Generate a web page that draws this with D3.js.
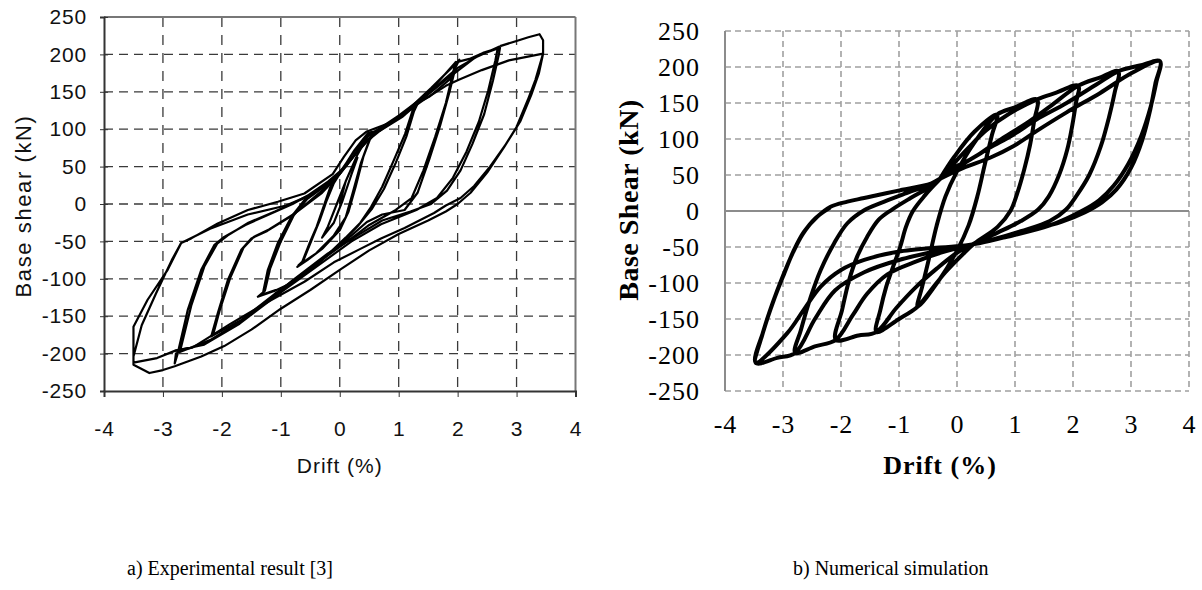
<!DOCTYPE html>
<html>
<head>
<meta charset="utf-8">
<script src="https://cdn.jsdelivr.net/npm/d3@7"></script>
<style>
body { margin: 0; background: #fff; }
</style>
</head>
<body>
<script>
const width  = 1202;
const height = 590;

// axis ticks (both panels)
const driftTicks = [-4, -3, -2, -1, 0, 1, 2, 3, 4];
const shearTicks = [250, 200, 150, 100, 50, 0, -50, -100, -150, -200, -250];

// ---------------- a) experimental loops, [drift %, shear kN] ----------------
const exp1 = [[0,0],[0.1,30],[0.2,48],[0.3,62],[0.2,40],[0.05,5],[-0.1,-25],[-0.3,-45],
  [-0.2,-30],[-0.05,0],[0.1,30],[0.3,66],[0.5,94],[0.65,98],
  [0.53,90],[0.4,63],[0.27,23],[0.15,-10],[0,-35],[-0.3,-60],[-0.55,-75],[-0.72,-84],
  [-0.65,-80],[-0.5,-50],[-0.39,-30],[-0.26,0],[-0.15,25],[0,42],[0.2,65],[0.45,90],[0.62,97],
  [0.5,85],[0.36,55],[0.22,15],[0.1,-18],[-0.1,-42],[-0.4,-66],[-0.7,-82],
  [-0.62,-76],[-0.46,-45],[-0.34,-22],[-0.22,5],[-0.1,28],[0.05,47],[0.25,72],[0.48,95],[0.62,97]];

const exp2 = [[0.62,97],[0.8,104],[1.07,118],[1.3,133],
  [1.24,126],[1.11,94],[0.92,59],[0.72,23],[0.53,-4],[0.35,-25],[0.1,-45],[-0.3,-75],[-0.8,-105],[-1.1,-116],[-1.39,-124],
  [-1.3,-118],[-1.22,-88],[-1.05,-52],[-0.82,-17],[-0.6,5],[-0.3,22],[-0.06,37],[0.2,60],[0.5,95],[0.68,98],[1.07,117],[1.32,134],
  [1.26,124],[1.13,90],[0.95,55],[0.75,20],[0.55,-6],[0.3,-30],[0.05,-50],[-0.4,-82],[-0.9,-110],[-1.35,-122],
  [-1.27,-116],[-1.18,-86],[-1.0,-50],[-0.78,-15],[-0.55,7],[-0.25,24],[0,40],[0.22,63],[0.5,93],[0.7,99],[1.1,119],[1.33,136]];

const exp3 = [[1.33,136],[1.53,144],[1.87,167],[2.03,193],
  [1.98,188],[1.86,149],[1.7,104],[1.52,60],[1.32,15],[1.1,-8],[0.72,-14],[0.46,-24],[0.2,-42],[-0.3,-74],[-1.0,-115],[-1.6,-152],[-2.18,-177],
  [-2.07,-146],[-1.9,-102],[-1.67,-61],[-1.5,-46],[-1.23,-36],[-0.8,-15],[-0.3,15],[0,40],[0.3,70],[0.6,96],[1.0,116],[1.5,148],[1.97,190],
  [1.93,178],[1.8,135],[1.62,90],[1.42,45],[1.22,8],[0.95,-8],[0.5,-28],[0.2,-46],[-0.4,-80],[-1.1,-120],[-1.7,-157],[-2.15,-175],
  [-2.04,-143],[-1.86,-99],[-1.63,-58],[-1.46,-44],[-1.2,-34],[-0.75,-12],[-0.3,18],[0.02,44],[0.35,74],[0.62,97],[1.05,118],[1.55,155],[2.0,190]];

const exp4 = [[2.0,190],[2.2,194],[2.43,202],[2.72,209],
  [2.7,200],[2.6,165],[2.45,120],[2.25,80],[2.05,45],[1.82,18],[1.55,0],[1.2,-10],[0.72,-22],[0.3,-42],[-0.2,-66],[-0.8,-102],[-1.5,-148],[-2.2,-182],[-2.78,-200],[-2.8,-213],
  [-2.75,-200],[-2.58,-142],[-2.35,-88],[-2.13,-55],[-1.96,-44],[-1.6,-28],[-1.23,-15],[-0.8,0],[-0.3,22],[0,42],[0.3,70],[0.6,97],[1.0,118],[1.5,148],[2.0,182],[2.4,200],[2.68,208],
  [2.64,192],[2.52,152],[2.36,110],[2.15,70],[1.92,35],[1.65,8],[1.3,-8],[0.7,-27],[0.2,-50],[-0.4,-84],[-1.0,-118],[-1.7,-160],[-2.3,-188],[-2.78,-196],
  [-2.7,-194],[-2.52,-136],[-2.3,-84],[-2.08,-53],[-1.9,-42],[-1.55,-25],[-1.1,-10],[-0.6,8],[-0.2,30],[0.1,50],[0.4,80],[0.7,99],[1.2,127],[1.8,166],[2.3,196],[2.72,211]];

const exp5 = [[2.72,211],[3.0,218],[3.2,223],[3.39,227],[3.45,219],[3.45,201],
  [3.32,166],[3.19,139],[3.0,103],[2.78,75],[2.5,42],[2.22,15],[2.0,0],[1.8,-10],[1.5,-22],[1.0,-40],[0.5,-62],[0,-88],
  [-0.5,-115],[-1.0,-140],[-1.5,-168],[-1.96,-190],[-2.35,-204],[-2.8,-217],[-3.0,-222],[-3.23,-226],[-3.5,-215],[-3.5,-204],
  [-3.5,-164],[-3.26,-128],[-2.92,-88],[-2.69,-52],[-2.52,-46],[-2.07,-26],[-1.56,-8],[-1.05,3],[-0.6,14],[-0.12,40],[0.07,63],[0.27,85],[0.46,97],
  [0.9,110],[1.4,138],[1.8,158],[2.02,166],[2.41,179],[2.87,192],[3.45,201],
  [3.38,175],[3.25,146],[3.06,110],[2.82,80],[2.55,50],[2.28,24],[2.05,8],[1.8,-2],[1.6,-12],[1.1,-32],[0.7,-46],[0.35,-60],[-0.1,-78],[-0.6,-104],
  [-1.2,-130],[-1.85,-160],[-2.5,-192],[-2.79,-196],[-3.1,-206],[-3.5,-212],
  [-3.5,-204],[-3.36,-162],[-3.12,-120],[-2.85,-75],[-2.69,-52],[-2.2,-33],[-1.56,-14],[-0.91,-2],[-0.5,12]];

// ---------------- b) numerical simulation, [drift %, shear kN] ----------------
const sim1 = [[-0.3,44],[-0.05,75],[0.3,110],[0.69,134],
  [0.6,105],[0.48,65],[0.35,20],[0.2,-20],[0,-55],[-0.3,-95],[-0.68,-133],
  [-0.6,-105],[-0.48,-65],[-0.35,-20],[-0.2,20],[0,55],[0.3,95],[0.69,134]];

const sim2 = [[1.0,144],[1.38,155],
  [1.33,125],[1.26,92],[1.16,58],[1.04,25],[0.92,0],[0.7,-22],[0.3,-45],
  [0.1,-60],[-0.2,-85],[-0.45,-110],[-0.68,-133],[-1.0,-150],[-1.39,-168],
  [-1.32,-137],[-1.22,-105],[-1.1,-77],[-0.98,-50],[-0.88,-22],[-0.76,0],[-0.55,22],[-0.3,44],
  [-0.1,62],[0.2,88],[0.5,112],[0.9,135],[1.38,155]];

const sim3 = [[1.7,164],[2.09,174],
  [2.05,150],[1.99,120],[1.9,85],[1.76,50],[1.58,20],[1.4,2],[1.1,-14],[0.7,-30],[0.3,-45],
  [0.0,-58],[-0.35,-80],[-0.7,-105],[-1.05,-135],[-1.39,-168],[-1.7,-173],[-2.09,-179],
  [-1.98,-137],[-1.86,-96],[-1.72,-63],[-1.55,-36],[-1.35,-12],[-1.12,2],[-0.8,18],[-0.5,32],[-0.3,44],
  [0.0,60],[0.4,80],[0.8,102],[1.2,122],[1.6,145],[2.09,174]];

const sim4 = [[2.45,185],[2.78,194],
  [2.72,165],[2.62,130],[2.48,90],[2.28,50],[2.05,20],[1.88,2],[1.6,-14],[1.1,-28],[0.6,-40],[0.3,-46],
  [-0.2,-56],[-0.7,-70],[-1.2,-88],[-1.55,-115],[-1.8,-145],[-2.09,-179],[-2.45,-188],[-2.79,-197],
  [-2.69,-165],[-2.52,-119],[-2.35,-82],[-2.12,-45],[-1.89,-17],[-1.6,1],[-1.32,11],[-0.9,24],[-0.5,36],[-0.3,44],
  [-0.18,55],[0.17,69],[0.57,88],[0.97,106],[1.37,127],[1.89,150],[2.41,176],[2.78,194]];

const sim5 = [[3.15,202],[3.5,208],
  [3.42,177],[3.33,140],[3.2,100],[3.0,60],[2.75,30],[2.5,12],[2.2,-2],[1.8,-15],[1.2,-28],[0.6,-40],[0.3,-46],
  [-0.3,-55],[-1.0,-68],[-1.6,-85],[-2.1,-110],[-2.45,-150],[-2.79,-197],[-3.1,-204],[-3.47,-211],
  [-3.33,-165],[-3.16,-124],[-2.98,-87],[-2.81,-54],[-2.64,-29],[-2.41,-8],[-2.18,6],[-1.89,13],[-1.6,18],[-1.03,28],[-0.45,38],[-0.29,45],
  [0.11,60],[0.57,74],[0.97,90],[1.37,111],[1.89,137],[2.47,164],[3.02,192],[3.5,208],
  [3.44,180],[3.34,145],[3.18,105],[2.95,65],[2.7,35],[2.45,15],[2.15,0],[1.6,-20],[0.8,-37],[0.3,-46],
  [-0.97,-56],[-1.6,-68],[-2.0,-82],[-2.35,-105],[-2.64,-137],[-2.93,-170],[-3.47,-211],
  [-3.35,-170],[-3.18,-128],[-3.0,-90],[-2.83,-58],[-2.66,-32],[-2.44,-10],[-2.2,4]];

const captions = ["a) Experimental result [3]", "b) Numerical simulation"];

// plain hyphen minus, as in the original figure
const fmt = d => String(d);

// Create the SVG container.
const svg = d3.select("body").append("svg")
    .attr("width", width)
    .attr("height", height)
    .attr("viewBox", [0, 0, width, height]);

// =========================== panel a ===========================
const xL = d3.scaleLinear().domain([-4, 4]).range([104, 575.5]);
const yL = d3.scaleLinear().domain([-250, 250]).range([391, 17]);
const sansFont = "'Liberation Sans', Arial, sans-serif";

// dashed grid
svg.append("g").selectAll("line")
    .data(shearTicks.filter(d => d > -250 && d < 250))
    .join("line")
    .attr("x1", xL(-4)).attr("x2", xL(4))
    .attr("y1", d => yL(d)).attr("y2", d => yL(d))
    .attr("stroke", "#3a3a3a").attr("stroke-width", 1.3)
    .attr("stroke-dasharray", "9,6");

svg.append("g").selectAll("line")
    .data(driftTicks.filter(d => d > -4 && d < 4))
    .join("line")
    .attr("x1", d => xL(d)).attr("x2", d => xL(d))
    .attr("y1", yL(250)).attr("y2", yL(-250))
    .attr("stroke", "#3a3a3a").attr("stroke-width", 1.3)
    .attr("stroke-dasharray", "10,8");

// frame: top/right greyish, left/bottom dark
svg.append("line").attr("x1", xL(-4)).attr("x2", xL(4)).attr("y1", yL(250)).attr("y2", yL(250))
    .attr("stroke", "#777").attr("stroke-width", 2);
svg.append("line").attr("x1", xL(4)).attr("x2", xL(4)).attr("y1", yL(250)).attr("y2", yL(-250))
    .attr("stroke", "#777").attr("stroke-width", 2);

const axLeftA = svg.append("g")
    .attr("transform", `translate(${xL(-4)},0)`)
    .call(d3.axisLeft(yL).tickValues(shearTicks).tickFormat(fmt).tickSize(4).tickPadding(13));
axLeftA.select(".domain").attr("stroke", "#333").attr("stroke-width", 2);
axLeftA.selectAll(".tick line").attr("stroke", "#333").attr("x2", 4).attr("x1", -4);
axLeftA.selectAll("text")
    .attr("font-family", sansFont).attr("font-size", 21)
    .attr("letter-spacing", 0.8).attr("fill", "#111");

const axBottomA = svg.append("g")
    .attr("transform", `translate(0,${yL(-250)})`)
    .call(d3.axisBottom(xL).tickValues(driftTicks).tickFormat(fmt).tickSize(6).tickPadding(24));
axBottomA.select(".domain").attr("stroke", "#333").attr("stroke-width", 2);
axBottomA.selectAll(".tick line").attr("stroke", "#333");
axBottomA.selectAll("text")
    .attr("font-family", sansFont).attr("font-size", 21)
    .attr("letter-spacing", 0.8).attr("fill", "#111");

svg.append("text")
    .attr("x", xL(0)).attr("y", 473)
    .attr("text-anchor", "middle")
    .attr("font-family", sansFont).attr("font-size", 21).attr("letter-spacing", 1)
    .attr("fill", "#111")
    .text("Drift (%)");

svg.append("text")
    .attr("transform", `translate(31,206) rotate(-90)`)
    .attr("text-anchor", "middle")
    .attr("font-family", sansFont).attr("font-size", 22).attr("letter-spacing", 1.6)
    .attr("fill", "#111")
    .text("Base shear (kN)");

const lineA = d3.line().x(d => xL(d[0])).y(d => yL(d[1]));
svg.append("g").selectAll("path")
    .data([exp1, exp2, exp3, exp4, exp5])
    .join("path")
    .attr("d", lineA)
    .attr("fill", "none").attr("stroke", "#000")
    .attr("stroke-width", 2.2).attr("stroke-linejoin", "round");

// =========================== panel b ===========================
const xR = d3.scaleLinear().domain([-4, 4]).range([725, 1189]);
const yR = d3.scaleLinear().domain([-250, 250]).range([391, 31]);
const serifFont = "'Liberation Serif', 'Times New Roman', serif";

svg.append("g").selectAll("line")
    .data(shearTicks.filter(d => d !== 0))
    .join("line")
    .attr("x1", xR(-4)).attr("x2", xR(4))
    .attr("y1", d => yR(d)).attr("y2", d => yR(d))
    .attr("stroke", "#a0a0a0").attr("stroke-width", 1.6)
    .attr("stroke-dasharray", "6,4");

svg.append("g").selectAll("line")
    .data(driftTicks.filter(d => d > -4))
    .join("line")
    .attr("x1", d => xR(d)).attr("x2", d => xR(d))
    .attr("y1", yR(250)).attr("y2", yR(-250))
    .attr("stroke", "#a0a0a0").attr("stroke-width", 1.6)
    .attr("stroke-dasharray", "6,4");

// solid value axis and zero line
svg.append("line").attr("x1", xR(-4)).attr("x2", xR(-4)).attr("y1", yR(250)).attr("y2", yR(-250))
    .attr("stroke", "#8c8c8c").attr("stroke-width", 2);
svg.append("line").attr("x1", xR(-4)).attr("x2", xR(4)).attr("y1", yR(0)).attr("y2", yR(0))
    .attr("stroke", "#8c8c8c").attr("stroke-width", 2);

const axLeftB = svg.append("g")
    .attr("transform", `translate(${xR(-4)},0)`)
    .call(d3.axisLeft(yR).tickValues(shearTicks).tickFormat(fmt).tickSize(0).tickPadding(25));
axLeftB.select(".domain").remove();
axLeftB.selectAll("text")
    .attr("font-family", serifFont).attr("font-size", 26)
    .attr("letter-spacing", 1).attr("fill", "#000");

const axBottomB = svg.append("g")
    .attr("transform", `translate(0,${yR(-250)})`)
    .call(d3.axisBottom(xR).tickValues(driftTicks).tickFormat(fmt).tickSize(0).tickPadding(24));
axBottomB.select(".domain").remove();
axBottomB.selectAll("text")
    .attr("font-family", serifFont).attr("font-size", 26)
    .attr("letter-spacing", 1).attr("fill", "#000");

svg.append("text")
    .attr("x", 940).attr("y", 474)
    .attr("text-anchor", "middle")
    .attr("font-family", serifFont).attr("font-size", 26).attr("font-weight", "bold")
    .attr("letter-spacing", 1).attr("fill", "#000")
    .text("Drift (%)");

svg.append("text")
    .attr("transform", `translate(638,200) rotate(-90)`)
    .attr("text-anchor", "middle")
    .attr("font-family", serifFont).attr("font-size", 28).attr("font-weight", "bold")
    .attr("letter-spacing", 0.5).attr("fill", "#000")
    .text("Base Shear (kN)");

const lineB = d3.line()
    .x(d => xR(d[0])).y(d => yR(d[1]))
    .curve(d3.curveCatmullRom.alpha(0.5));
svg.append("path")
    .datum([].concat(sim1, sim2, sim3, sim4, sim5))
    .attr("d", lineB)
    .attr("fill", "none").attr("stroke", "#000")
    .attr("stroke-width", 4).attr("stroke-linejoin", "round").attr("stroke-linecap", "round");

// =========================== captions ===========================
svg.append("g").selectAll("text")
    .data(captions)
    .join("text")
    .attr("x", (d, i) => i === 0 ? 127 : 793)
    .attr("y", 575)
    .attr("font-family", serifFont).attr("font-size", 20)
    .attr("fill", "#000")
    .text(d => d);
</script>
</body>
</html>
